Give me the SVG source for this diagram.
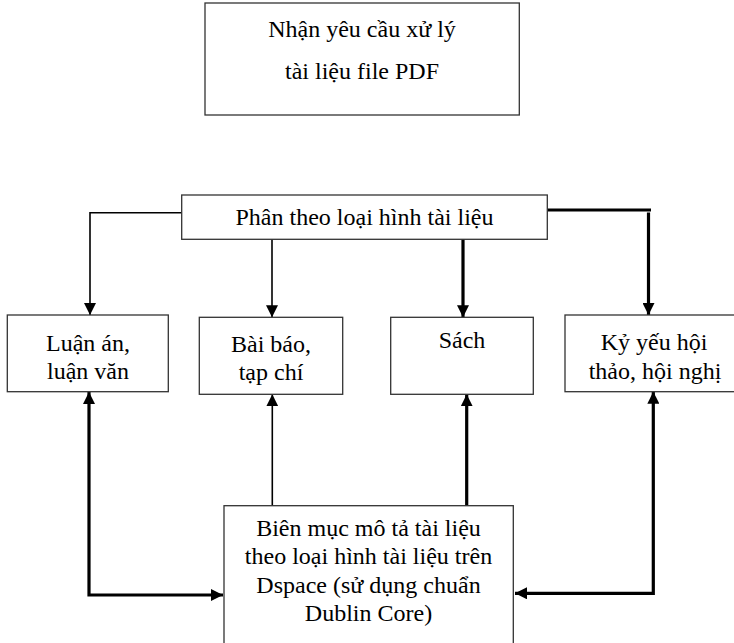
<svg xmlns="http://www.w3.org/2000/svg" width="734" height="643" viewBox="0 0 734 643">
  <style>
    .box { fill: #ffffff; stroke: #333333; stroke-width: 1.3; }
    .label { font-family: "Liberation Serif", "Times New Roman", serif; font-size: 24px; fill: #000000; text-anchor: middle; }
    .thin { fill: none; stroke: #000000; stroke-width: 1.6; }
    .thick { fill: none; stroke: #000000; stroke-width: 3.2; }
  </style>
  <defs>
    <marker id="arrow" viewBox="0 0 12 12" refX="12" refY="6" markerWidth="12" markerHeight="12" markerUnits="userSpaceOnUse" orient="auto-start-reverse">
      <path d="M0,0 L12,6 L0,12 Z" fill="#000000"/>
    </marker>
  </defs>

  <rect width="734" height="643" fill="#ffffff"/>

  <g id="connectors">
    <!-- from the sorting box down to the four document types -->
    <path class="thin" d="M181.7,212.7 H90 V315" marker-end="url(#arrow)"/>
    <path class="thin" d="M272,239.3 V317.3" marker-end="url(#arrow)"/>
    <path class="thick" d="M463,239.3 V317.3" marker-end="url(#arrow)"/>
    <path class="thick" d="M547.3,210 H651"/>
    <path class="thick" d="M648.5,212.5 V315" marker-end="url(#arrow)"/>
    <!-- cataloguing box linked back to each document type -->
    <path class="thick" d="M223,595 H89 V392" marker-start="url(#arrow)" marker-end="url(#arrow)"/>
    <path class="thin" d="M272.3,505.7 V394.3" marker-end="url(#arrow)"/>
    <path class="thick" d="M466.7,505.7 V394.3" marker-end="url(#arrow)"/>
    <path class="thick" d="M515,593.3 H653.3 V391.7" marker-start="url(#arrow)" marker-end="url(#arrow)"/>
  </g>

  <g id="receive">
    <rect class="box" x="205" y="3" width="314.3" height="112"/>
    <text class="label" x="362" y="37">Nhận yêu cầu xử lý</text>
    <text class="label" x="362" y="79">tài liệu file PDF</text>
  </g>

  <g id="classify">
    <rect class="box" x="181.7" y="195" width="365.6" height="44.3"/>
    <text class="label" x="364.5" y="225">Phân theo loại hình tài liệu</text>
  </g>

  <g id="thesis">
    <rect class="box" x="7.3" y="315" width="161" height="76.7"/>
    <text class="label" x="88" y="351">Luận án,</text>
    <text class="label" x="88" y="379">luận văn</text>
  </g>

  <g id="article">
    <rect class="box" x="199.3" y="317.3" width="143.4" height="77"/>
    <text class="label" x="271" y="352">Bài báo,</text>
    <text class="label" x="271" y="380">tạp chí</text>
  </g>

  <g id="book">
    <rect class="box" x="390.7" y="317.3" width="142.6" height="77"/>
    <text class="label" x="462" y="348">Sách</text>
  </g>

  <g id="proceedings">
    <rect class="box" x="565" y="315" width="180" height="76.7"/>
    <text class="label" x="654" y="350">Kỷ yếu hội</text>
    <text class="label" x="655" y="379">thảo, hội nghị</text>
  </g>

  <g id="catalogue">
    <rect class="box" x="224" y="505.7" width="289.3" height="150"/>
    <text class="label" x="368.5" y="535.7">Biên mục mô tả tài liệu</text>
    <text class="label" x="368.5" y="564">theo loại hình tài liệu trên</text>
    <text class="label" x="368.5" y="592.7">Dspace (sử dụng chuẩn</text>
    <text class="label" x="368.5" y="620.7">Dublin Core)</text>
  </g>
</svg>
